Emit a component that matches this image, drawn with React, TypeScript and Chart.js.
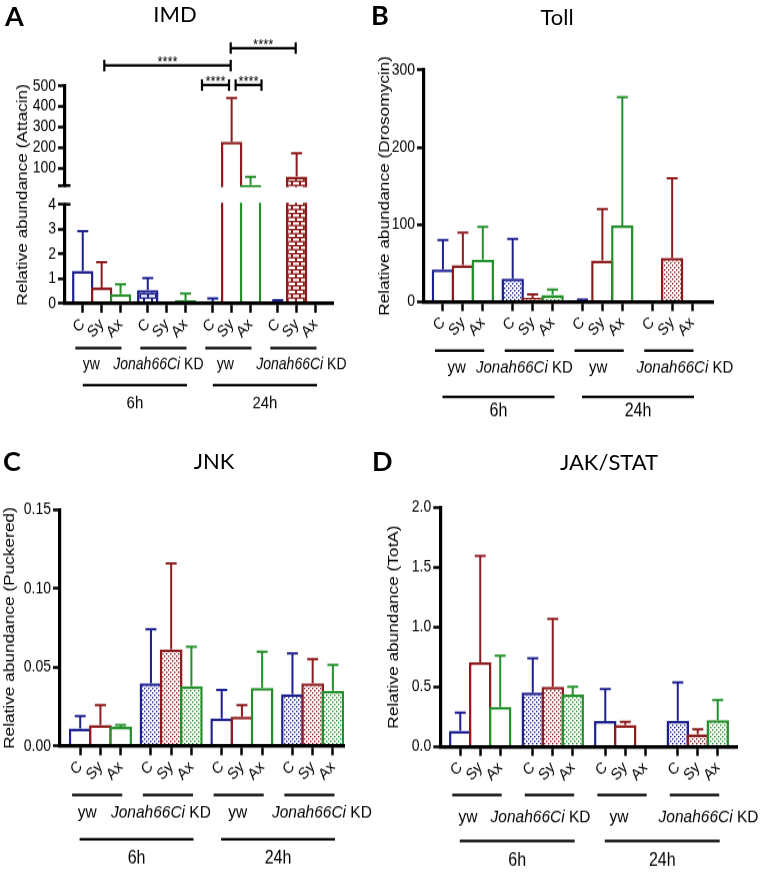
import React, { useEffect, useRef } from "react";
import { Chart, registerables, LinearScale } from "chart.js";

Chart.register(...registerables);

// ---------------- data ----------------
const barLabels = ["C", "Sy", "Ax"];
const groupLabels: [string, string][] = [
  ["", "yw"],
  ["Jonah66Ci", " KD"],
  ["", "yw"],
  ["Jonah66Ci", " KD"],
];
const timeLabels = ["6h", "24h"];
const panelLetters = ["A", "B", "C", "D"];
const panelTitles = ["IMD", "Toll", "JNK", "JAK/STAT"];
const yTitles = [
  "Relative abundance (Attacin)",
  "Relative abundance (Drosomycin)",
  "Relative abundance (Puckered)",
  "Relative abundance (TotA)",
];

// IMD (Attacin), broken axis 0-4 / 15-500
const imdMeans = [1.32, 0.65, 0.38, 0.54, 0.04, 0.13, 0.09, 228, 18, 0.09, 59, 0.08];
const imdSD = [1.6, 1.01, 0.39, 0.49, 0, 0.27, 0.11, 213, 40, 0.04, 113, 0];
const imdTicks = [0, 1, 2, 3, 4, 15, 100, 200, 300, 400, 500];
const imdTickLabels = ["0", "1", "2", "3", "4", "", "100", "200", "300", "400", "500"];
const imdSignificance = "****";
const imdBrackets = [
  { from: 1, fromShift: 0.14, to: 7, toShift: -0.05, level: 600 },
  { from: 7, fromShift: -0.05, to: 10, toShift: -0.05, level: 685 },
  { from: 6, fromShift: -0.57, to: 7, toShift: -0.14, level: 505 },
  { from: 7, fromShift: 0.21, to: 8, toShift: 0.58, level: 505 },
];

// Toll (Drosomycin)
const tollMeans = [42, 47.5, 54.5, 30, 5, 9, 1.5, 53.5, 99, 0, 57, 0];
const tollSD = [38, 42, 42.5, 51.5, 4.5, 7, 1.5, 66.5, 166, 0, 103, 0];
const tollTicks = [0, 100, 200, 300];
const tollTickLabels = ["0", "100", "200", "300"];

// JNK (Puckered)
const jnkMeans = [0.0112, 0.0133, 0.0123, 0.0398, 0.0614, 0.0381, 0.0176, 0.0186, 0.037, 0.033, 0.0398, 0.0351];
const jnkSD = [0.0078, 0.0127, 0.001, 0.0345, 0.0546, 0.0249, 0.018, 0.0074, 0.023, 0.0259, 0.0155, 0.0164];
const jnkTicks = [0, 0.05, 0.1, 0.15];
const jnkTickLabels = ["0.00", "0.05", "0.10", "0.15"];

// JAK/STAT (TotA)
const jakMeans = [0.134, 0.705, 0.334, 0.454, 0.501, 0.437, 0.215, 0.181, 0.01, 0.217, 0.104, 0.223];
const jakSD = [0.15, 0.888, 0.426, 0.284, 0.566, 0.064, 0.267, 0.028, 0, 0.321, 0.041, 0.167];
const jakTicks = [0, 0.5, 1, 1.5, 2];
const jakTickLabels = ["0.0", "0.5", "1.0", "1.5", "2.0"];

// ---------------- styling / layout ----------------
const FONT = "'Liberation Sans', Arial, Helvetica, sans-serif";
const TITLE_FONT = "Lato, 'Open Sans', sans-serif";
const S = 1.15; // vertical stretch of the graph canvases
const BAR_COLORS = ["#1d2090", "#8e1b1d", "#24902b"];
const Y_TITLE_SIZE = 15;

const BREAK_LOW = 4;
const BREAK_HIGH = 15;
const BROKEN_MAX = 500;
const LOW_FRAC = 0.456;
const HIGH_FRAC = 0.5425;

function brokenToDecimal(v: number) {
  if (v <= BREAK_LOW) return (v / BREAK_LOW) * LOW_FRAC;
  if (v >= BREAK_HIGH) return HIGH_FRAC + ((v - BREAK_HIGH) / (BROKEN_MAX - BREAK_HIGH)) * (1 - HIGH_FRAC);
  return LOW_FRAC + ((v - BREAK_LOW) / (BREAK_HIGH - BREAK_LOW)) * (HIGH_FRAC - LOW_FRAC);
}
function brokenFromDecimal(d: number) {
  if (d <= LOW_FRAC) return (d / LOW_FRAC) * BREAK_LOW;
  if (d >= HIGH_FRAC) return BREAK_HIGH + ((d - HIGH_FRAC) / (1 - HIGH_FRAC)) * (BROKEN_MAX - BREAK_HIGH);
  return BREAK_LOW + ((d - LOW_FRAC) / (HIGH_FRAC - LOW_FRAC)) * (BREAK_HIGH - BREAK_LOW);
}

class BrokenLinearScale extends LinearScale {
  static id = "brokenLinear";
  getPixelForValue(value: any) {
    if (value === null || value === undefined) return NaN;
    return (this as any).getPixelForDecimal(brokenToDecimal(+value));
  }
  getValueForPixel(pixel: number) {
    return brokenFromDecimal((this as any).getDecimalForPixel(pixel));
  }
}
Chart.register(BrokenLinearScale as any);

type PanelDef = {
  key: string;
  left: number;
  top: number;
  width: number;
  canvasH: number;
  axisX: number;
  axisRight: number;
  yTop: number;
  yZero: number;
  titleX: number;
  lead: number;
  gap: number;
  trail: number;
  groupLineY: number;
  groupLabelY: number;
  timeLineY: number;
  timeLabelY: number;
  labelDx: number[];
  groupFont: number;
  timeFont: number;
  means: number[];
  sd: number[];
  yTicks: number[];
  yTickLabels: string[];
  yMax: number;
  yTitle: string;
  broken?: boolean;
  pattern: "dots" | "bricks";
  brackets?: typeof imdBrackets;
};

const panels: PanelDef[] = [
  {
    key: "A", left: 0, top: 0, width: 381, canvasH: 370,
    axisX: 65, axisRight: 333.3, yTop: 86, yZero: 303.5, titleX: 22.5,
    lead: 0.44, gap: 0.44, trail: 0.44,
    groupLineY: 348, groupLabelY: 364.3, timeLineY: 385, timeLabelY: 404,
    labelDx: [-7, -5, -3, 8], groupFont: 14, timeFont: 15,
    means: imdMeans, sd: imdSD, yTicks: imdTicks, yTickLabels: imdTickLabels, yMax: BROKEN_MAX,
    yTitle: yTitles[0], broken: true, pattern: "bricks", brackets: imdBrackets,
  },
  {
    key: "B", left: 370, top: 0, width: 392, canvasH: 370,
    axisX: 424, axisRight: 713, yTop: 70, yZero: 301.8, titleX: 384.5,
    lead: 0.45, gap: 0.5, trail: 0.55,
    groupLineY: 350.7, groupLabelY: 368, timeLineY: 397, timeLabelY: 411,
    labelDx: [-3, -5, -1, 16], groupFont: 15, timeFont: 16,
    means: tollMeans, sd: tollSD, yTicks: tollTicks, yTickLabels: tollTickLabels, yMax: 300,
    yTitle: yTitles[1], pattern: "dots",
  },
  {
    key: "C", left: 0, top: 430, width: 381, canvasH: 384,
    axisX: 60, axisRight: 344, yTop: 510, yZero: 746, titleX: 9.5,
    lead: 0.5, gap: 0.5, trail: 0.05,
    groupLineY: 795, groupLabelY: 813, timeLineY: 839.3, timeLabelY: 858,
    labelDx: [-10, -7, -1, 12.5], groupFont: 15.5, timeFont: 16,
    means: jnkMeans, sd: jnkSD, yTicks: jnkTicks, yTickLabels: jnkTickLabels, yMax: 0.15,
    yTitle: yTitles[2], pattern: "dots",
  },
  {
    key: "D", left: 372, top: 430, width: 390, canvasH: 384,
    axisX: 440.3, axisRight: 737.7, yTop: 507.3, yZero: 746.7, titleX: 393.5,
    lead: 0.5, gap: 0.63, trail: 0.5,
    groupLineY: 795, groupLabelY: 816.7, timeLineY: 841, timeLabelY: 860.5,
    labelDx: [-9, -9, -3, 14], groupFont: 15.5, timeFont: 16,
    means: jakMeans, sd: jakSD, yTicks: jakTicks, yTickLabels: jakTickLabels, yMax: 2,
    yTitle: yTitles[3], pattern: "dots",
  },
];

const letterPos = [
  { x: 5, y: 2 },
  { x: 371, y: 1 },
  { x: 3, y: 447 },
  { x: 372, y: 447 },
];
const titlePos = [
  { x: 175, y: 3 },
  { x: 557, y: 6 },
  { x: 214, y: 449.5 },
  { x: 609, y: 451 },
];

function makePattern(ctx: CanvasRenderingContext2D, kind: "dots" | "bricks", color: string) {
  const tile = document.createElement("canvas");
  const g = tile.getContext("2d")!;
  if (kind === "dots") {
    tile.width = 4;
    tile.height = 4;
    g.fillStyle = "#ffffff";
    g.fillRect(0, 0, 4, 4);
    g.fillStyle = color;
    g.fillRect(0, 0, 1.4, 1.4);
    g.fillRect(2, 2, 1.4, 1.4);
  } else {
    tile.width = 8;
    tile.height = 7;
    g.fillStyle = color;
    g.fillRect(0, 0, 8, 7);
    g.fillStyle = "#ffffff";
    g.fillRect(1, 0.8, 6, 2.2);
    g.fillRect(-3, 4.3, 6, 2.2);
    g.fillRect(5, 4.3, 6, 2.2);
  }
  return ctx.createPattern(tile, "repeat")!;
}

function buildChart(canvas: HTMLCanvasElement, p: PanelDef) {
  const ctx = canvas.getContext("2d")!;
  const H = p.canvasH;
  const toC = (y: number) => (y - p.top) / S;
  const chartTop = toC(p.yTop);
  const chartBottom = toC(p.yZero);
  const axisX = p.axisX - p.left;
  const right = p.axisRight - p.left;
  const padLeft = p.titleX - p.left - Y_TITLE_SIZE / 2;
  const positions = p.means.map((_, i) => Math.floor(i / 3) * (3 + p.gap) + (i % 3));
  const xMin = -0.5 - p.lead;
  const xMax = positions[positions.length - 1] + 0.5 + p.trail;
  const unitPx = (right - axisX) / (xMax - xMin);

  const colors = p.means.map((_, i) => BAR_COLORS[i % 3]);
  const fills = p.means.map((_, i) => {
    const g = Math.floor(i / 3);
    return g % 2 === 1 ? makePattern(ctx, p.pattern, BAR_COLORS[i % 3]) : "#ffffff";
  });

  const decor = {
    id: "decor" + p.key,
    afterDatasetsDraw(chart: any) {
      const c = chart.ctx;
      const xs = chart.scales.x;
      const ys = chart.scales.y;
      c.save();
      c.lineWidth = 2;
      p.means.forEach((m, i) => {
        const sd = p.sd[i];
        if (!sd) return;
        const x = xs.getPixelForValue(positions[i]);
        const y0 = ys.getPixelForValue(m);
        const y1 = ys.getPixelForValue(m + sd);
        c.strokeStyle = colors[i];
        c.beginPath();
        c.moveTo(x, y0);
        c.lineTo(x, y1);
        c.moveTo(x - 5.5, y1);
        c.lineTo(x + 5.5, y1);
        c.stroke();
      });
      c.restore();
    },
    afterDraw(chart: any) {
      const c = chart.ctx;
      const xs = chart.scales.x;
      const ys = chart.scales.y;
      const ca = chart.chartArea;
      c.save();
      if (p.broken) {
        const yHi = ys.getPixelForValue(BREAK_HIGH);
        const yLo = ys.getPixelForValue(BREAK_LOW);
        c.fillStyle = "#ffffff";
        c.fillRect(ca.left - 2.5, yHi + 1.4, ca.right - ca.left + 8, yLo - yHi - 2.8);
        c.strokeStyle = "#000";
        c.lineWidth = 2.5;
        for (const y of [yHi, yLo]) {
          c.beginPath();
          c.moveTo(ca.left - 1, y);
          c.lineTo(ca.left + 5.5, y);
          c.stroke();
        }
      }
      if (p.brackets) {
        c.strokeStyle = "#000";
        c.fillStyle = "#000";
        c.lineWidth = 2.2;
        c.font = `13px ${FONT}`;
        c.textAlign = "center";
        c.textBaseline = "alphabetic";
        for (const b of p.brackets) {
          const x1 = xs.getPixelForValue(positions[b.from] + b.fromShift);
          const x2 = xs.getPixelForValue(positions[b.to] + b.toShift);
          const y = ys.getPixelForValue(b.level);
          c.beginPath();
          c.moveTo(x1, y);
          c.lineTo(x2, y);
          c.moveTo(x1, y - 5);
          c.lineTo(x1, y + 5);
          c.moveTo(x2, y - 5);
          c.lineTo(x2, y + 5);
          c.stroke();
          c.fillText(imdSignificance, (x1 + x2) / 2, y + 1.5);
        }
      }
      const pxOf = (i: number) => xs.getPixelForValue(positions[i]);
      const half = (xs.getPixelForValue(1) - xs.getPixelForValue(0)) / 2;
      c.strokeStyle = "#000";
      c.fillStyle = "#000";
      c.lineWidth = 2.2;
      c.textBaseline = "middle";
      const gy = toC(p.groupLineY);
      const gly = toC(p.groupLabelY);
      for (let g = 0; g < 4; g++) {
        const gs = pxOf(g * 3) - half;
        const ge = pxOf(g * 3 + 2) + half;
        const x1 = gs + 2;
        const x2 = ge - 8.5;
        c.beginPath();
        c.moveTo(x1, gy);
        c.lineTo(x2, gy);
        c.stroke();
        const cx = (x1 + x2) / 2 + p.labelDx[g];
        const [it, norm] = groupLabels[g];
        const fi = `italic ${p.groupFont}px ${FONT}`;
        const fn = `${p.groupFont}px ${FONT}`;
        c.font = fi;
        const wI = it ? c.measureText(it).width : 0;
        c.font = fn;
        const wN = c.measureText(norm).width;
        const sx = cx - (wI + wN) / 2;
        c.textAlign = "left";
        if (it) {
          c.font = fi;
          c.fillText(it, sx, gly);
        }
        c.font = fn;
        c.fillText(norm, sx + wI, gly);
      }
      const ty = toC(p.timeLineY);
      const tly = toC(p.timeLabelY);
      for (let t = 0; t < 2; t++) {
        const x1 = pxOf(t * 6) - half + 9.5;
        const x2 = pxOf(t * 6 + 5) + half - 8;
        c.beginPath();
        c.moveTo(x1, ty);
        c.lineTo(x2, ty);
        c.stroke();
        c.font = `${p.timeFont}px ${FONT}`;
        c.textAlign = "center";
        c.fillText(timeLabels[t], (x1 + x2) / 2, tly);
      }
      c.restore();
    },
  };

  return new Chart(canvas, {
    type: "bar",
    data: {
      datasets: [
        {
          data: p.means.map((m, i) => ({ x: positions[i], y: m })),
          backgroundColor: fills as any,
          borderColor: colors,
          borderWidth: 2.5,
          borderSkipped: "start",
          barPercentage: 1 + 2.5 / unitPx,
          categoryPercentage: 1,
        } as any,
      ],
    },
    options: {
      responsive: false,
      animation: false,
      events: [],
      layout: { padding: { left: padLeft, top: chartTop, right: p.width - right, bottom: 0 } },
      plugins: {
        legend: { display: false },
        tooltip: { enabled: false },
        title: { display: false },
      },
      scales: {
        x: {
          type: "linear",
          min: xMin,
          max: xMax,
          offset: false,
          grid: {
            offset: false,
            drawOnChartArea: false,
            drawTicks: true,
            tickLength: 8,
            tickWidth: 2.5,
            tickColor: "#000",
          },
          border: { display: true, color: "#000", width: 3.2, z: 1 },
          ticks: {
            autoSkip: false,
            minRotation: 45,
            maxRotation: 45,
            padding: 2,
            color: "#000",
            font: { family: FONT, size: 14 },
            callback: (_v: any, i: number) => barLabels[i % 3],
          },
          afterBuildTicks: (s: any) => {
            s.ticks = positions.map((v) => ({ value: v }));
          },
          afterFit: (s: any) => {
            s.height = H - chartBottom;
          },
        } as any,
        y: {
          type: p.broken ? "brokenLinear" : "linear",
          min: 0,
          max: p.yMax,
          grid: {
            drawOnChartArea: false,
            drawTicks: true,
            tickLength: 7,
            tickWidth: 2.5,
            tickColor: "#000",
          },
          border: { display: true, color: "#000", width: 3.2, z: 1 },
          ticks: {
            autoSkip: false,
            padding: 2,
            color: "#000",
            font: { family: FONT, size: 14 },
            callback: (_v: any, i: number) => p.yTickLabels[i],
          },
          afterBuildTicks: (s: any) => {
            s.ticks = p.yTicks.map((v) => ({ value: v }));
          },
          afterFit: (s: any) => {
            s.width = axisX - padLeft;
          },
          title: {
            display: true,
            text: p.yTitle,
            color: "#000",
            font: { family: FONT, size: Y_TITLE_SIZE, lineHeight: 1 },
            padding: 0,
          },
        } as any,
      },
    } as any,
    plugins: [decor],
  });
}

function PanelChart({ p }: { p: PanelDef }) {
  const ref = useRef<HTMLCanvasElement | null>(null);
  useEffect(() => {
    const chart = buildChart(ref.current!, p);
    return () => chart.destroy();
  }, [p]);
  return (
    <canvas
      ref={ref}
      width={p.width}
      height={p.canvasH}
      style={{
        position: "absolute",
        left: p.left,
        top: p.top,
        width: p.width,
        height: p.canvasH,
        transform: `scaleY(${S})`,
        transformOrigin: "0 0",
      }}
    />
  );
}

export default function App() {
  return (
    <div
      style={{
        position: "absolute",
        left: 0,
        top: 0,
        width: 762,
        height: 872,
        background: "#ffffff",
        overflow: "hidden",
      }}
    >
      {panels.map((p) => (
        <PanelChart key={p.key} p={p} />
      ))}
      {panelLetters.map((l, i) => (
        <div
          key={"l" + l}
          style={{
            position: "absolute",
            left: letterPos[i].x,
            top: letterPos[i].y,
            font: `bold 27px ${TITLE_FONT}`,
            lineHeight: "27px",
            color: "#000",
            whiteSpace: "nowrap",
          }}
        >
          {l}
        </div>
      ))}
      {panelTitles.map((t, i) => (
        <div
          key={"t" + t}
          style={{
            position: "absolute",
            left: titlePos[i].x,
            top: titlePos[i].y,
            transform: "translateX(-50%)",
            font: `22px ${TITLE_FONT}`,
            lineHeight: "22px",
            color: "#000",
            whiteSpace: "nowrap",
          }}
        >
          {t}
        </div>
      ))}
    </div>
  );
}
